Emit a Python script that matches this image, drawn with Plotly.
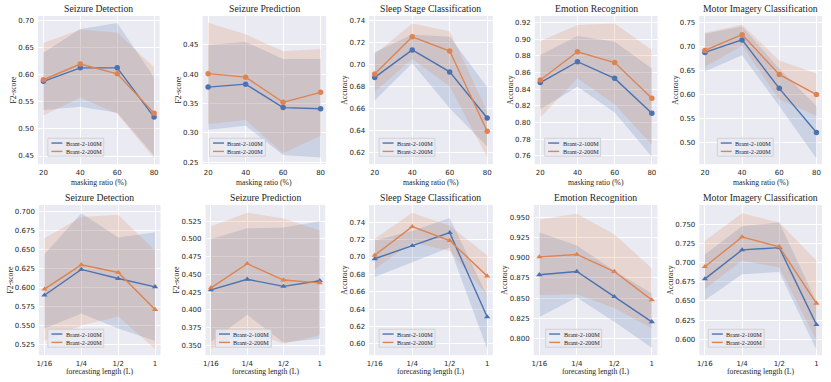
import plotly.graph_objects as go

# ---------------- data ----------------
masking_ratio = [20, 40, 60, 80]
forecast_pos = [0, 1, 2, 3]
forecast_labels = ["1/16", "1/4", "1/2", "1"]

titles = ["Seizure Detection", "Seizure Prediction", "Sleep Stage Classification",
          "Emotion Recognition", "Motor Imagery Classification"]
ylabels = ["F2-score", "F2-score", "Accuracy", "Accuracy", "Accuracy"]
series_names = ["Brant-2-100M", "Brant-2-200M"]

# masking ratio (top row)
mask_sd_100 = [0.588, 0.613, 0.613, 0.522]
mask_sd_100_lo = [0.535, 0.541, 0.530, 0.451]
mask_sd_100_hi = [0.641, 0.685, 0.696, 0.595]
mask_sd_200 = [0.591, 0.620, 0.602, 0.529]
mask_sd_200_lo = [0.525, 0.558, 0.528, 0.446]
mask_sd_200_hi = [0.659, 0.684, 0.678, 0.614]

mask_sp_100 = [0.378, 0.383, 0.343, 0.341]
mask_sp_100_lo = [0.305, 0.312, 0.262, 0.258]
mask_sp_100_hi = [0.450, 0.455, 0.426, 0.426]
mask_sp_200 = [0.401, 0.395, 0.352, 0.369]
mask_sp_200_lo = [0.315, 0.322, 0.265, 0.295]
mask_sp_200_hi = [0.488, 0.468, 0.439, 0.443]

mask_ss_100 = [0.688, 0.713, 0.693, 0.651]
mask_ss_100_lo = [0.667, 0.701, 0.660, 0.625]
mask_ss_100_hi = [0.711, 0.727, 0.725, 0.679]
mask_ss_200 = [0.691, 0.725, 0.712, 0.639]
mask_ss_200_lo = [0.675, 0.705, 0.680, 0.615]
mask_ss_200_hi = [0.709, 0.737, 0.730, 0.657]

mask_er_100 = [0.848, 0.873, 0.853, 0.811]
mask_er_100_lo = [0.816, 0.843, 0.812, 0.759]
mask_er_100_hi = [0.881, 0.904, 0.897, 0.865]
mask_er_200 = [0.851, 0.885, 0.872, 0.829]
mask_er_200_lo = [0.806, 0.853, 0.822, 0.773]
mask_er_200_hi = [0.898, 0.917, 0.919, 0.887]

mask_mi_100 = [0.688, 0.714, 0.613, 0.521]
mask_mi_100_lo = [0.648, 0.682, 0.576, 0.467]
mask_mi_100_hi = [0.727, 0.742, 0.654, 0.576]
mask_mi_200 = [0.692, 0.725, 0.642, 0.600]
mask_mi_200_lo = [0.658, 0.702, 0.590, 0.556]
mask_mi_200_hi = [0.729, 0.746, 0.671, 0.644]

# forecasting length (bottom row)
fc_sd_100 = [0.590, 0.624, 0.612, 0.601]
fc_sd_100_lo = [0.546, 0.566, 0.546, 0.530]
fc_sd_100_hi = [0.644, 0.698, 0.666, 0.673]
fc_sd_200 = [0.598, 0.630, 0.620, 0.571]
fc_sd_200_lo = [0.530, 0.550, 0.562, 0.519]
fc_sd_200_hi = [0.665, 0.693, 0.696, 0.649]

fc_sp_100 = [0.428, 0.443, 0.433, 0.441]
fc_sp_100_lo = [0.355, 0.393, 0.354, 0.359]
fc_sp_100_hi = [0.500, 0.515, 0.516, 0.525]
fc_sp_200 = [0.431, 0.465, 0.442, 0.438]
fc_sp_200_lo = [0.345, 0.371, 0.352, 0.364]
fc_sp_200_hi = [0.518, 0.537, 0.529, 0.512]

fc_ss_100 = [0.698, 0.713, 0.728, 0.631]
fc_ss_100_lo = [0.677, 0.694, 0.711, 0.594]
fc_ss_100_hi = [0.719, 0.730, 0.745, 0.655]
fc_ss_200 = [0.702, 0.735, 0.719, 0.678]
fc_ss_200_lo = [0.686, 0.717, 0.707, 0.656]
fc_ss_200_hi = [0.721, 0.751, 0.736, 0.702]

fc_er_100 = [0.879, 0.883, 0.852, 0.821]
fc_er_100_lo = [0.827, 0.851, 0.821, 0.789]
fc_er_100_hi = [0.931, 0.915, 0.884, 0.856]
fc_er_200 = [0.901, 0.904, 0.883, 0.848]
fc_er_200_lo = [0.854, 0.855, 0.838, 0.813]
fc_er_200_hi = [0.947, 0.954, 0.929, 0.887]

fc_mi_100 = [0.679, 0.717, 0.720, 0.619]
fc_mi_100_lo = [0.651, 0.685, 0.688, 0.586]
fc_mi_100_hi = [0.711, 0.748, 0.753, 0.649]
fc_mi_200 = [0.695, 0.734, 0.721, 0.647]
fc_mi_200_lo = [0.666, 0.703, 0.694, 0.599]
fc_mi_200_hi = [0.729, 0.765, 0.753, 0.703]

# y ticks per panel
mask_yticks = [
    [0.45, 0.50, 0.55, 0.60, 0.65, 0.70],
    [0.25, 0.30, 0.35, 0.40, 0.45],
    [0.62, 0.64, 0.66, 0.68, 0.70, 0.72, 0.74],
    [0.76, 0.78, 0.80, 0.82, 0.84, 0.86, 0.88, 0.90, 0.92],
    [0.50, 0.55, 0.60, 0.65, 0.70, 0.75],
]
fc_yticks = [
    [0.525, 0.550, 0.575, 0.600, 0.625, 0.650, 0.675, 0.700],
    [0.350, 0.375, 0.400, 0.425, 0.450, 0.475, 0.500, 0.525],
    [0.60, 0.62, 0.64, 0.66, 0.68, 0.70, 0.72, 0.74],
    [0.800, 0.825, 0.850, 0.875, 0.900, 0.925, 0.950],
    [0.600, 0.625, 0.650, 0.675, 0.700, 0.725, 0.750],
]
mask_ytickformat = [".2f", ".2f", ".2f", ".2f", ".2f"]
fc_ytickformat = [".3f", ".3f", ".2f", ".3f", ".3f"]

# ---------------- styling / layout ----------------
W, H = 831, 382
BLUE = "#4C72B0"
ORANGE = "#DD8452"
BLUE_FILL = "rgba(76,114,176,0.2)"
ORANGE_FILL = "rgba(221,132,82,0.2)"
SERIF = "Liberation Serif, Times New Roman, serif"
SANS = "DejaVu Sans"
TEXT = "#262626"

mask_panels = [
    (mask_sd_100, mask_sd_100_lo, mask_sd_100_hi, mask_sd_200, mask_sd_200_lo, mask_sd_200_hi),
    (mask_sp_100, mask_sp_100_lo, mask_sp_100_hi, mask_sp_200, mask_sp_200_lo, mask_sp_200_hi),
    (mask_ss_100, mask_ss_100_lo, mask_ss_100_hi, mask_ss_200, mask_ss_200_lo, mask_ss_200_hi),
    (mask_er_100, mask_er_100_lo, mask_er_100_hi, mask_er_200, mask_er_200_lo, mask_er_200_hi),
    (mask_mi_100, mask_mi_100_lo, mask_mi_100_hi, mask_mi_200, mask_mi_200_lo, mask_mi_200_hi),
]
fc_panels = [
    (fc_sd_100, fc_sd_100_lo, fc_sd_100_hi, fc_sd_200, fc_sd_200_lo, fc_sd_200_hi),
    (fc_sp_100, fc_sp_100_lo, fc_sp_100_hi, fc_sp_200, fc_sp_200_lo, fc_sp_200_hi),
    (fc_ss_100, fc_ss_100_lo, fc_ss_100_hi, fc_ss_200, fc_ss_200_lo, fc_ss_200_hi),
    (fc_er_100, fc_er_100_lo, fc_er_100_hi, fc_er_200, fc_er_200_lo, fc_er_200_hi),
    (fc_mi_100, fc_mi_100_lo, fc_mi_100_hi, fc_mi_200, fc_mi_200_lo, fc_mi_200_hi),
]

# pixel boxes of plot areas
top_boxes = [(36, 158), (201, 325), (368, 492), (534, 657), (699, 822)]
bot_boxes = [(37, 159), (204, 324), (368, 492), (533, 657), (699, 822)]
top_y = (16, 165)
bot_y = (206, 357)
top_xtitle_y = 183.5
bot_xtitle_y = 373.5
mask_yranges = [(0.435, 0.709), (0.2465, 0.4995), (0.609, 0.744), (0.750, 0.928), (0.455, 0.764)]
fc_yranges = [(0.511, 0.709), (0.336, 0.548), (0.587, 0.760), (0.780, 0.965), (0.579, 0.776)]
legend_dx_top = [10, 7, 10, 10, 18]
legend_dx_bot = [9, 10, 10, 12, 9]
LEG_W, LEG_H = 56, 18

fig = go.Figure()
layout = dict(
    width=W, height=H,
    margin=dict(l=0, r=0, t=0, b=0),
    paper_bgcolor="white",
    plot_bgcolor="#EAEAF2",
    showlegend=False,
    annotations=[],
    shapes=[],
)


def ax_name(kind, i):
    return kind + ("axis" if i == 1 else "axis%d" % i)


def ref(kind, i):
    return kind if i == 1 else "%s%d" % (kind, i)


def px(xp):
    return xp / W


def py(yp):
    return 1 - yp / H


def add_legend(left, bottom_px):
    # small legend box in the lower-left of the panel (line keys + labels)
    x0, x1 = left, left + LEG_W
    y1, y0 = bottom_px, bottom_px - LEG_H
    layout["shapes"].append(dict(
        type="rect", xref="paper", yref="paper", x0=px(x0), x1=px(x1), y0=py(y1), y1=py(y0),
        fillcolor="rgba(234,234,242,0.8)", line=dict(color="#cccccc", width=0.8), layer="above"))
    for k, (col, name) in enumerate(((BLUE, series_names[0]), (ORANGE, series_names[1]))):
        yc = y0 + 4.8 + 8.4 * k
        layout["shapes"].append(dict(
            type="line", xref="paper", yref="paper", x0=px(x0 + 3.5), x1=px(x0 + 14.5),
            y0=py(yc), y1=py(yc), line=dict(color=col, width=1.4), layer="above"))
        layout["annotations"].append(dict(
            text=name, xref="paper", yref="paper", x=px(x0 + 17), y=py(yc),
            xanchor="left", yanchor="middle", showarrow=False, borderpad=0,
            font=dict(family=SERIF, size=6.2, color=TEXT)))


def add_panel(idx, xs, panel, marker, box, yb, yrange, yticks, yfmt, ticktext,
              xtitle, xtitle_y, ytitle, title, xrange_, legdx):
    s100, lo100, hi100, s200, lo200, hi200 = panel
    xr, yr = ref("x", idx), ref("y", idx)
    # confidence bands
    for lo, hi, fc in ((lo100, hi100, BLUE_FILL), (lo200, hi200, ORANGE_FILL)):
        fig.add_trace(go.Scatter(
            x=list(xs) + list(xs)[::-1], y=list(hi) + list(lo)[::-1],
            fill="toself", fillcolor=fc, line=dict(width=0), mode="lines",
            hoverinfo="skip", showlegend=False, xaxis=xr, yaxis=yr))
    # mean lines with markers
    for s, col, name in ((s100, BLUE, series_names[0]), (s200, ORANGE, series_names[1])):
        fig.add_trace(go.Scatter(
            x=xs, y=s, mode="lines+markers", name=name,
            line=dict(color=col, width=1.4),
            marker=dict(symbol=marker, size=5.5, color=col),
            xaxis=xr, yaxis=yr, showlegend=False))
    left, right = box
    top, bottom = yb
    layout[ax_name("x", idx)] = dict(
        domain=[left / W, right / W], anchor=yr, range=list(xrange_),
        tickvals=list(xs), ticktext=ticktext,
        showgrid=True, gridcolor="white", gridwidth=1, zeroline=False, showline=False,
        ticks="", ticklabelstandoff=3,
        tickfont=dict(family=SANS, size=7, color=TEXT),
    )
    layout[ax_name("y", idx)] = dict(
        domain=[1 - bottom / H, 1 - top / H], anchor=xr, range=list(yrange),
        tickvals=yticks, tickformat=yfmt,
        showgrid=True, gridcolor="white", gridwidth=1, zeroline=False, showline=False,
        ticks="", ticklabelstandoff=3,
        tickfont=dict(family=SANS, size=7, color=TEXT),
        title=dict(text=ytitle, font=dict(family=SERIF, size=7.7, color=TEXT), standoff=0),
    )
    layout["annotations"].append(dict(
        text=title, xref="paper", yref="paper", x=(left + right) / 2 / W, y=py(top + 0.5),
        xanchor="center", yanchor="bottom", showarrow=False,
        font=dict(family=SERIF, size=9.7, color=TEXT)))
    layout["annotations"].append(dict(
        text=xtitle, xref="paper", yref="paper", x=(left + right) / 2 / W, y=py(xtitle_y),
        xanchor="center", yanchor="middle", showarrow=False,
        font=dict(family=SERIF, size=7.7, color=TEXT)))
    add_legend(left + legdx, bottom - 8)


for k in range(5):
    add_panel(k + 1, masking_ratio, mask_panels[k], "circle", top_boxes[k], top_y,
              mask_yranges[k], mask_yticks[k], mask_ytickformat[k], [str(v) for v in masking_ratio],
              "masking ratio (%)", top_xtitle_y, ylabels[k], titles[k], (17, 83), legend_dx_top[k])
for k in range(5):
    add_panel(k + 6, forecast_pos, fc_panels[k], "triangle-up", bot_boxes[k], bot_y,
              fc_yranges[k], fc_yticks[k], fc_ytickformat[k], forecast_labels,
              "forecasting length (L)", bot_xtitle_y, ylabels[k], titles[k], (-0.15, 3.15),
              legend_dx_bot[k])

fig.update_layout(**layout)
# remove the browser's default body margin so the 831x382 figure fills the window exactly
fig.write_html("out.html",
               config={"displayModeBar": False},
               post_script="document.body.style.margin='0';document.body.style.overflow='hidden';")
